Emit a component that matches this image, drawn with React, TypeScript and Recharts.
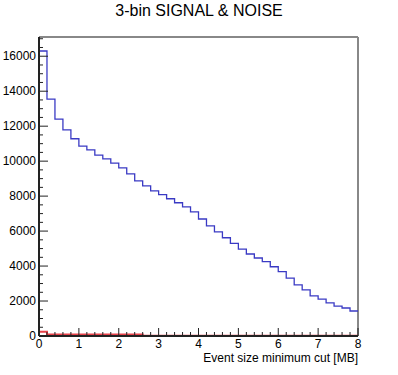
import { Line, LineChart, ReferenceLine, XAxis, YAxis } from 'recharts'

// 40 bins of 0.2 MB from 0 to 8
const signalNoise = [
  16300, 13550, 12400, 11790, 11280, 10860, 10650, 10340, 10130, 9890,
  9620, 9270, 8870, 8590, 8300, 8080, 7850, 7620, 7390, 7100,
  6690, 6300, 5950, 5620, 5300, 4970, 4690, 4460, 4250, 3960,
  3680, 3310, 2920, 2640, 2300, 2110, 1890, 1710, 1600, 1430,
]
const noiseOnly = [
  250, 80, 80, 80, 80, 80, 80, 80, 80, 80,
  80, 80, 80, 10, 10, 10, 10, 10, 10, 10,
  10, 10, 10, 10, 10, 10, 10, 10, 10, 10,
  10, 10, 10, 10, 10, 10, 10, 10, 10, 10,
]
const xTicks = Array.from({ length: 41 }, (_, i) => Math.round(i * 2) / 10)
const yTicks = Array.from({ length: 35 }, (_, i) => i * 500)
const yMax = 17100

// step-after points: one per bin edge, last edge repeats the last bin
const data = xTicks.map((x, i) => {
  const b = Math.min(i, signalNoise.length - 1)
  return { x, total: signalNoise[b], noise: noiseOnly[b] }
})

const font = '"Liberation Sans", Arial, Helvetica, sans-serif'

function XTick(props: any) {
  const { x, y, payload } = props
  const v = payload.value
  const major = Math.abs(v - Math.round(v)) < 1e-6
  return (
    <g>
      <line x1={x} x2={x} y1={y} y2={y - (major ? 8 : 4)} stroke="#222" />
      {major && (
        <text x={x} y={y + 12} textAnchor="middle" fontSize={12} fontFamily={font} fill="#000">
          {Math.round(v)}
        </text>
      )}
    </g>
  )
}

function YTick(props: any) {
  const { x, y, payload } = props
  const v = payload.value
  const major = v % 2000 === 0
  return (
    <g>
      <line x1={x} x2={x + (major ? 9 : 4)} y1={y} y2={y} stroke="#222" />
      {major && (
        <text x={x - 3} y={y + 4} textAnchor="end" fontSize={12} fontFamily={font} fill="#000">
          {v}
        </text>
      )}
    </g>
  )
}

export default function App() {
  return (
    <div style={{ position: 'absolute', left: 0, top: 0, width: 398, height: 375, background: '#fff' }}>
      <div
        style={{
          position: 'absolute',
          top: 2,
          left: 0,
          width: 398,
          textAlign: 'center',
          fontFamily: font,
          fontSize: 16,
        }}
      >
        3-bin SIGNAL &amp; NOISE
      </div>
      <div
        style={{
          position: 'absolute',
          top: 351,
          right: 40,
          fontFamily: font,
          fontSize: 12,
          lineHeight: '14px',
        }}
      >
        Event size minimum cut [MB]
      </div>
      <LineChart width={398} height={375} data={data} margin={{ top: 37, right: 40, bottom: 0, left: 0 }}>
        <XAxis
          dataKey="x"
          type="number"
          domain={[0, 8]}
          ticks={xTicks}
          interval={0}
          tickSize={0}
          tickMargin={0}
          tickLine={false}
          tick={<XTick />}
          height={39}
          axisLine={{ stroke: '#222', strokeWidth: 2 }}
        />
        <YAxis
          type="number"
          domain={[0, yMax]}
          allowDataOverflow
          ticks={yTicks}
          interval={0}
          tickSize={0}
          tickMargin={0}
          tickLine={false}
          tick={<YTick />}
          width={39}
          axisLine={{ stroke: '#222', strokeWidth: 2 }}
        />
        <ReferenceLine y={yMax} stroke="#888" strokeWidth={2} />
        <ReferenceLine x={8} stroke="#888" strokeWidth={2} />
        <Line
          dataKey="total"
          type="stepAfter"
          stroke="#3a3ac4"
          strokeWidth={1.3}
          dot={false}
          isAnimationActive={false}
        />
        <Line
          dataKey="noise"
          type="stepAfter"
          stroke="#e8424a"
          strokeWidth={2}
          dot={false}
          isAnimationActive={false}
        />
      </LineChart>
    </div>
  )
}
